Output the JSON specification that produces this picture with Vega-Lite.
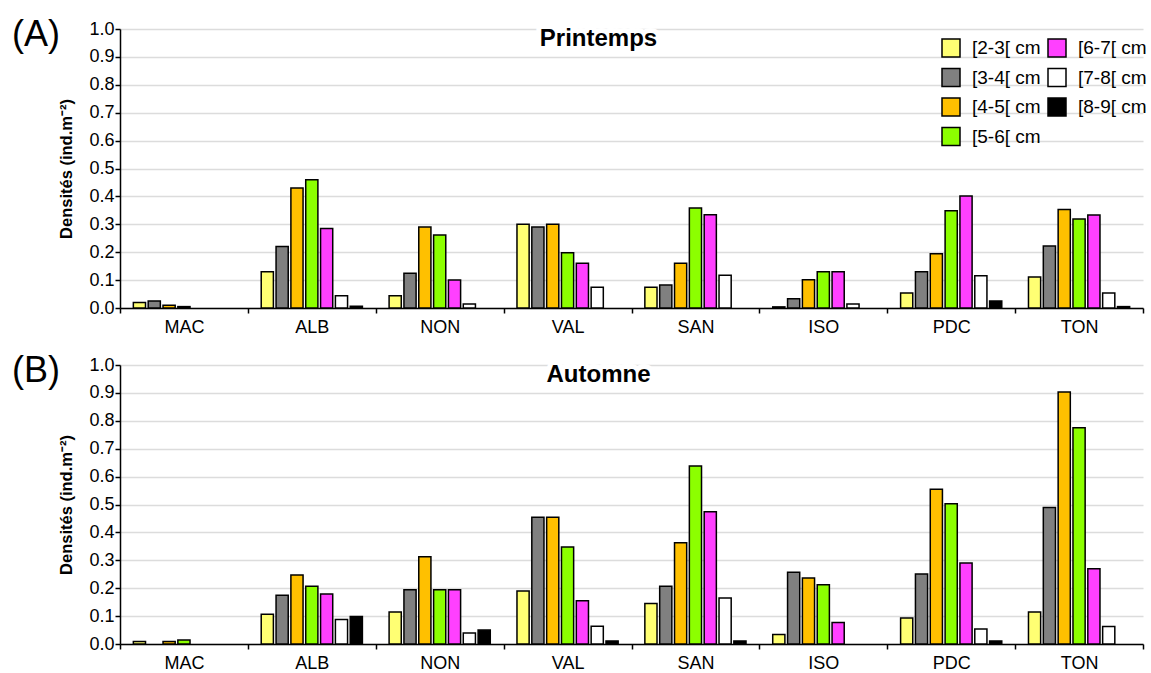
{
  "$schema": "https://vega.github.io/schema/vega-lite/v6.json",
  "background": "white",
  "padding": {"left": 11, "top": 17, "right": 5, "bottom": 5},
  "config": {
    "font": "Liberation Sans",
    "view": {"stroke": null},
    "axis": {"labelFont": "Liberation Sans", "titleFont": "Liberation Sans", "labelColor": "black", "titleColor": "black"},
    "title": {"font": "Liberation Sans", "color": "black"}
  },
  "data": {"values": [
    {"season": "Printemps", "site": "MAC", "cls": "[2-3[ cm", "v": 0.02},
    {"season": "Printemps", "site": "MAC", "cls": "[3-4[ cm", "v": 0.025},
    {"season": "Printemps", "site": "MAC", "cls": "[4-5[ cm", "v": 0.01},
    {"season": "Printemps", "site": "MAC", "cls": "[5-6[ cm", "v": 0.005},
    {"season": "Printemps", "site": "ALB", "cls": "[2-3[ cm", "v": 0.13},
    {"season": "Printemps", "site": "ALB", "cls": "[3-4[ cm", "v": 0.22},
    {"season": "Printemps", "site": "ALB", "cls": "[4-5[ cm", "v": 0.43},
    {"season": "Printemps", "site": "ALB", "cls": "[5-6[ cm", "v": 0.46},
    {"season": "Printemps", "site": "ALB", "cls": "[6-7[ cm", "v": 0.285},
    {"season": "Printemps", "site": "ALB", "cls": "[7-8[ cm", "v": 0.044},
    {"season": "Printemps", "site": "ALB", "cls": "[8-9[ cm", "v": 0.006},
    {"season": "Printemps", "site": "NON", "cls": "[2-3[ cm", "v": 0.044},
    {"season": "Printemps", "site": "NON", "cls": "[3-4[ cm", "v": 0.125},
    {"season": "Printemps", "site": "NON", "cls": "[4-5[ cm", "v": 0.29},
    {"season": "Printemps", "site": "NON", "cls": "[5-6[ cm", "v": 0.262},
    {"season": "Printemps", "site": "NON", "cls": "[6-7[ cm", "v": 0.1},
    {"season": "Printemps", "site": "NON", "cls": "[7-8[ cm", "v": 0.014},
    {"season": "Printemps", "site": "VAL", "cls": "[2-3[ cm", "v": 0.3},
    {"season": "Printemps", "site": "VAL", "cls": "[3-4[ cm", "v": 0.29},
    {"season": "Printemps", "site": "VAL", "cls": "[4-5[ cm", "v": 0.3},
    {"season": "Printemps", "site": "VAL", "cls": "[5-6[ cm", "v": 0.198},
    {"season": "Printemps", "site": "VAL", "cls": "[6-7[ cm", "v": 0.16},
    {"season": "Printemps", "site": "VAL", "cls": "[7-8[ cm", "v": 0.074},
    {"season": "Printemps", "site": "SAN", "cls": "[2-3[ cm", "v": 0.074},
    {"season": "Printemps", "site": "SAN", "cls": "[3-4[ cm", "v": 0.082},
    {"season": "Printemps", "site": "SAN", "cls": "[4-5[ cm", "v": 0.16},
    {"season": "Printemps", "site": "SAN", "cls": "[5-6[ cm", "v": 0.358},
    {"season": "Printemps", "site": "SAN", "cls": "[6-7[ cm", "v": 0.334},
    {"season": "Printemps", "site": "SAN", "cls": "[7-8[ cm", "v": 0.117},
    {"season": "Printemps", "site": "ISO", "cls": "[2-3[ cm", "v": 0.004},
    {"season": "Printemps", "site": "ISO", "cls": "[3-4[ cm", "v": 0.033},
    {"season": "Printemps", "site": "ISO", "cls": "[4-5[ cm", "v": 0.101},
    {"season": "Printemps", "site": "ISO", "cls": "[5-6[ cm", "v": 0.13},
    {"season": "Printemps", "site": "ISO", "cls": "[6-7[ cm", "v": 0.13},
    {"season": "Printemps", "site": "ISO", "cls": "[7-8[ cm", "v": 0.014},
    {"season": "Printemps", "site": "PDC", "cls": "[2-3[ cm", "v": 0.054},
    {"season": "Printemps", "site": "PDC", "cls": "[3-4[ cm", "v": 0.13},
    {"season": "Printemps", "site": "PDC", "cls": "[4-5[ cm", "v": 0.194},
    {"season": "Printemps", "site": "PDC", "cls": "[5-6[ cm", "v": 0.349},
    {"season": "Printemps", "site": "PDC", "cls": "[6-7[ cm", "v": 0.401},
    {"season": "Printemps", "site": "PDC", "cls": "[7-8[ cm", "v": 0.116},
    {"season": "Printemps", "site": "PDC", "cls": "[8-9[ cm", "v": 0.025},
    {"season": "Printemps", "site": "TON", "cls": "[2-3[ cm", "v": 0.111},
    {"season": "Printemps", "site": "TON", "cls": "[3-4[ cm", "v": 0.222},
    {"season": "Printemps", "site": "TON", "cls": "[4-5[ cm", "v": 0.353},
    {"season": "Printemps", "site": "TON", "cls": "[5-6[ cm", "v": 0.319},
    {"season": "Printemps", "site": "TON", "cls": "[6-7[ cm", "v": 0.333},
    {"season": "Printemps", "site": "TON", "cls": "[7-8[ cm", "v": 0.054},
    {"season": "Printemps", "site": "TON", "cls": "[8-9[ cm", "v": 0.005},
    {"season": "Automne", "site": "MAC", "cls": "[2-3[ cm", "v": 0.009},
    {"season": "Automne", "site": "MAC", "cls": "[4-5[ cm", "v": 0.009},
    {"season": "Automne", "site": "MAC", "cls": "[5-6[ cm", "v": 0.014},
    {"season": "Automne", "site": "ALB", "cls": "[2-3[ cm", "v": 0.107},
    {"season": "Automne", "site": "ALB", "cls": "[3-4[ cm", "v": 0.175},
    {"season": "Automne", "site": "ALB", "cls": "[4-5[ cm", "v": 0.247},
    {"season": "Automne", "site": "ALB", "cls": "[5-6[ cm", "v": 0.207},
    {"season": "Automne", "site": "ALB", "cls": "[6-7[ cm", "v": 0.179},
    {"season": "Automne", "site": "ALB", "cls": "[7-8[ cm", "v": 0.088},
    {"season": "Automne", "site": "ALB", "cls": "[8-9[ cm", "v": 0.099},
    {"season": "Automne", "site": "NON", "cls": "[2-3[ cm", "v": 0.115},
    {"season": "Automne", "site": "NON", "cls": "[3-4[ cm", "v": 0.194},
    {"season": "Automne", "site": "NON", "cls": "[4-5[ cm", "v": 0.313},
    {"season": "Automne", "site": "NON", "cls": "[5-6[ cm", "v": 0.194},
    {"season": "Automne", "site": "NON", "cls": "[6-7[ cm", "v": 0.194},
    {"season": "Automne", "site": "NON", "cls": "[7-8[ cm", "v": 0.039},
    {"season": "Automne", "site": "NON", "cls": "[8-9[ cm", "v": 0.05},
    {"season": "Automne", "site": "VAL", "cls": "[2-3[ cm", "v": 0.19},
    {"season": "Automne", "site": "VAL", "cls": "[3-4[ cm", "v": 0.454},
    {"season": "Automne", "site": "VAL", "cls": "[4-5[ cm", "v": 0.454},
    {"season": "Automne", "site": "VAL", "cls": "[5-6[ cm", "v": 0.348},
    {"season": "Automne", "site": "VAL", "cls": "[6-7[ cm", "v": 0.155},
    {"season": "Automne", "site": "VAL", "cls": "[7-8[ cm", "v": 0.064},
    {"season": "Automne", "site": "VAL", "cls": "[8-9[ cm", "v": 0.011},
    {"season": "Automne", "site": "SAN", "cls": "[2-3[ cm", "v": 0.145},
    {"season": "Automne", "site": "SAN", "cls": "[3-4[ cm", "v": 0.207},
    {"season": "Automne", "site": "SAN", "cls": "[4-5[ cm", "v": 0.363},
    {"season": "Automne", "site": "SAN", "cls": "[5-6[ cm", "v": 0.638},
    {"season": "Automne", "site": "SAN", "cls": "[6-7[ cm", "v": 0.474},
    {"season": "Automne", "site": "SAN", "cls": "[7-8[ cm", "v": 0.165},
    {"season": "Automne", "site": "SAN", "cls": "[8-9[ cm", "v": 0.011},
    {"season": "Automne", "site": "ISO", "cls": "[2-3[ cm", "v": 0.034},
    {"season": "Automne", "site": "ISO", "cls": "[3-4[ cm", "v": 0.257},
    {"season": "Automne", "site": "ISO", "cls": "[4-5[ cm", "v": 0.237},
    {"season": "Automne", "site": "ISO", "cls": "[5-6[ cm", "v": 0.212},
    {"season": "Automne", "site": "ISO", "cls": "[6-7[ cm", "v": 0.077},
    {"season": "Automne", "site": "PDC", "cls": "[2-3[ cm", "v": 0.093},
    {"season": "Automne", "site": "PDC", "cls": "[3-4[ cm", "v": 0.251},
    {"season": "Automne", "site": "PDC", "cls": "[4-5[ cm", "v": 0.555},
    {"season": "Automne", "site": "PDC", "cls": "[5-6[ cm", "v": 0.503},
    {"season": "Automne", "site": "PDC", "cls": "[6-7[ cm", "v": 0.29},
    {"season": "Automne", "site": "PDC", "cls": "[7-8[ cm", "v": 0.054},
    {"season": "Automne", "site": "PDC", "cls": "[8-9[ cm", "v": 0.011},
    {"season": "Automne", "site": "TON", "cls": "[2-3[ cm", "v": 0.115},
    {"season": "Automne", "site": "TON", "cls": "[3-4[ cm", "v": 0.489},
    {"season": "Automne", "site": "TON", "cls": "[4-5[ cm", "v": 0.903},
    {"season": "Automne", "site": "TON", "cls": "[5-6[ cm", "v": 0.775},
    {"season": "Automne", "site": "TON", "cls": "[6-7[ cm", "v": 0.27},
    {"season": "Automne", "site": "TON", "cls": "[7-8[ cm", "v": 0.063}
  ]},
  "spacing": 57,
  "bounds": "flush",
  "resolve": {"scale": {"color": "independent"}, "legend": {"color": "independent"}},
  "vconcat": [
    {
      "width": 1023,
      "height": 279,
      "title": {"text": "(A)", "anchor": "start", "frame": "bounds", "fontSize": 36, "fontWeight": "normal", "baseline": "alphabetic", "offset": -43, "dx": -47, "dy": 19},
      "layer": [
        {
          "transform": [{"filter": "datum.season === 'Printemps'"}],
          "mark": {"type": "bar", "stroke": "black", "strokeWidth": 1.5},
          "encoding": {
            "x": {"field": "site", "type": "nominal", "sort": ["MAC", "ALB", "NON", "VAL", "SAN", "ISO", "PDC", "TON"],
                  "scale": {"paddingInner": 0, "paddingOuter": 0},
                  "axis": {"title": null, "labelAngle": 0, "labelFontSize": 18, "labelPadding": 5, "tickBand": "extent", "tickSize": 5, "tickColor": "black", "tickWidth": 1.5, "domainColor": "black", "domainWidth": 1.5, "grid": false}},
            "xOffset": {"field": "cls", "type": "nominal", "scale": {"domain": ["[2-3[ cm", "[3-4[ cm", "[4-5[ cm", "[5-6[ cm", "[6-7[ cm", "[7-8[ cm", "[8-9[ cm"], "paddingInner": 0.18, "paddingOuter": 0.9}},
            "y": {"field": "v", "type": "quantitative", "scale": {"domain": [0, 1], "nice": false},
                  "axis": {"title": "Densités (ind.m⁻²)", "titleFontSize": 16.5, "titleFontWeight": "bold", "titlePadding": 14, "values": [0, 0.1, 0.2, 0.3, 0.4, 0.5, 0.6, 0.7, 0.8, 0.9, 1.0], "tickCount": 12, "format": ".1f", "labelFontSize": 18, "labelPadding": 1, "labelOverlap": false, "tickSize": 5, "tickColor": "black", "tickWidth": 1.5, "domainColor": "black", "domainWidth": 1.5, "grid": true, "gridColor": "#dcdcdc", "gridWidth": 1.5}},
            "color": {"field": "cls", "type": "nominal",
                      "scale": {"domain": ["[2-3[ cm", "[3-4[ cm", "[4-5[ cm", "[5-6[ cm", "[6-7[ cm", "[7-8[ cm", "[8-9[ cm"],
                                "range": ["#ffff73", "#808080", "#ffc000", "#8cff00", "#ff40ff", "#ffffff", "#000000"]},
                      "legend": {"title": null, "orient": "none", "legendX": 821, "legendY": 9, "columns": 2, "padding": 0, "symbolType": "square", "symbolSize": 324, "symbolStrokeColor": "black", "symbolStrokeWidth": 1.5, "symbolOpacity": 1, "labelFontSize": 19, "labelFont": "Liberation Sans", "labelColor": "black", "labelOffset": 11, "columnPadding": 4, "rowPadding": 5.5}}
          }
        },
        {
          "data": {"values": [{"t": "Printemps"}]},
          "mark": {"type": "text", "font": "Liberation Sans", "fontSize": 24, "fontWeight": "bold", "stroke": "white", "strokeWidth": 10, "strokeJoin": "round", "baseline": "middle", "align": "center", "dx": -33, "dy": 10},
          "encoding": {"x": {"datum": "VAL", "bandPosition": 1},
                       "y": {"datum": 1, "type": "quantitative", "axis": {"title": "Densités (ind.m⁻²)", "titleFontSize": 16.5, "titleFontWeight": "bold", "titlePadding": 14, "values": [0, 0.1, 0.2, 0.3, 0.4, 0.5, 0.6, 0.7, 0.8, 0.9, 1.0], "tickCount": 12, "format": ".1f", "labelFontSize": 18, "labelPadding": 1, "labelOverlap": false, "tickSize": 5, "tickColor": "black", "tickWidth": 1.5, "domainColor": "black", "domainWidth": 1.5, "grid": true, "gridColor": "#dcdcdc", "gridWidth": 1.5}},
                       "text": {"field": "t"}}
        },
        {
          "data": {"values": [{"t": "Printemps"}]},
          "mark": {"type": "text", "font": "Liberation Sans", "fontSize": 24, "fontWeight": "bold", "color": "black", "baseline": "middle", "align": "center", "dx": -33, "dy": 10},
          "encoding": {"x": {"datum": "VAL", "bandPosition": 1},
                       "y": {"datum": 1, "type": "quantitative", "axis": {"title": "Densités (ind.m⁻²)", "titleFontSize": 16.5, "titleFontWeight": "bold", "titlePadding": 14, "values": [0, 0.1, 0.2, 0.3, 0.4, 0.5, 0.6, 0.7, 0.8, 0.9, 1.0], "tickCount": 12, "format": ".1f", "labelFontSize": 18, "labelPadding": 1, "labelOverlap": false, "tickSize": 5, "tickColor": "black", "tickWidth": 1.5, "domainColor": "black", "domainWidth": 1.5, "grid": true, "gridColor": "#dcdcdc", "gridWidth": 1.5}},
                       "text": {"field": "t"}}
        }
      ]
    },
    {
      "width": 1023,
      "height": 279,
      "title": {"text": "(B)", "anchor": "start", "frame": "bounds", "fontSize": 36, "fontWeight": "normal", "baseline": "alphabetic", "offset": -43, "dx": -47, "dy": 19},
      "layer": [
        {
          "transform": [{"filter": "datum.season === 'Automne'"}],
          "mark": {"type": "bar", "stroke": "black", "strokeWidth": 1.5},
          "encoding": {
            "x": {"field": "site", "type": "nominal", "sort": ["MAC", "ALB", "NON", "VAL", "SAN", "ISO", "PDC", "TON"],
                  "scale": {"paddingInner": 0, "paddingOuter": 0},
                  "axis": {"title": null, "labelAngle": 0, "labelFontSize": 18, "labelPadding": 5, "tickBand": "extent", "tickSize": 5, "tickColor": "black", "tickWidth": 1.5, "domainColor": "black", "domainWidth": 1.5, "grid": false}},
            "xOffset": {"field": "cls", "type": "nominal", "scale": {"domain": ["[2-3[ cm", "[3-4[ cm", "[4-5[ cm", "[5-6[ cm", "[6-7[ cm", "[7-8[ cm", "[8-9[ cm"], "paddingInner": 0.18, "paddingOuter": 0.9}},
            "y": {"field": "v", "type": "quantitative", "scale": {"domain": [0, 1], "nice": false},
                  "axis": {"title": "Densités (ind.m⁻²)", "titleFontSize": 16.5, "titleFontWeight": "bold", "titlePadding": 14, "values": [0, 0.1, 0.2, 0.3, 0.4, 0.5, 0.6, 0.7, 0.8, 0.9, 1.0], "tickCount": 12, "format": ".1f", "labelFontSize": 18, "labelPadding": 1, "labelOverlap": false, "tickSize": 5, "tickColor": "black", "tickWidth": 1.5, "domainColor": "black", "domainWidth": 1.5, "grid": true, "gridColor": "#dcdcdc", "gridWidth": 1.5}},
            "color": {"field": "cls", "type": "nominal",
                      "scale": {"domain": ["[2-3[ cm", "[3-4[ cm", "[4-5[ cm", "[5-6[ cm", "[6-7[ cm", "[7-8[ cm", "[8-9[ cm"],
                                "range": ["#ffff73", "#808080", "#ffc000", "#8cff00", "#ff40ff", "#ffffff", "#000000"]},
                      "legend": null}
          }
        },
        {
          "data": {"values": [{"t": "Automne"}]},
          "mark": {"type": "text", "font": "Liberation Sans", "fontSize": 24, "fontWeight": "bold", "stroke": "white", "strokeWidth": 10, "strokeJoin": "round", "baseline": "middle", "align": "center", "dx": -33, "dy": 10},
          "encoding": {"x": {"datum": "VAL", "bandPosition": 1},
                       "y": {"datum": 1, "type": "quantitative", "axis": {"title": "Densités (ind.m⁻²)", "titleFontSize": 16.5, "titleFontWeight": "bold", "titlePadding": 14, "values": [0, 0.1, 0.2, 0.3, 0.4, 0.5, 0.6, 0.7, 0.8, 0.9, 1.0], "tickCount": 12, "format": ".1f", "labelFontSize": 18, "labelPadding": 1, "labelOverlap": false, "tickSize": 5, "tickColor": "black", "tickWidth": 1.5, "domainColor": "black", "domainWidth": 1.5, "grid": true, "gridColor": "#dcdcdc", "gridWidth": 1.5}},
                       "text": {"field": "t"}}
        },
        {
          "data": {"values": [{"t": "Automne"}]},
          "mark": {"type": "text", "font": "Liberation Sans", "fontSize": 24, "fontWeight": "bold", "color": "black", "baseline": "middle", "align": "center", "dx": -33, "dy": 10},
          "encoding": {"x": {"datum": "VAL", "bandPosition": 1},
                       "y": {"datum": 1, "type": "quantitative", "axis": {"title": "Densités (ind.m⁻²)", "titleFontSize": 16.5, "titleFontWeight": "bold", "titlePadding": 14, "values": [0, 0.1, 0.2, 0.3, 0.4, 0.5, 0.6, 0.7, 0.8, 0.9, 1.0], "tickCount": 12, "format": ".1f", "labelFontSize": 18, "labelPadding": 1, "labelOverlap": false, "tickSize": 5, "tickColor": "black", "tickWidth": 1.5, "domainColor": "black", "domainWidth": 1.5, "grid": true, "gridColor": "#dcdcdc", "gridWidth": 1.5}},
                       "text": {"field": "t"}}
        }
      ]
    }
  ]
}
